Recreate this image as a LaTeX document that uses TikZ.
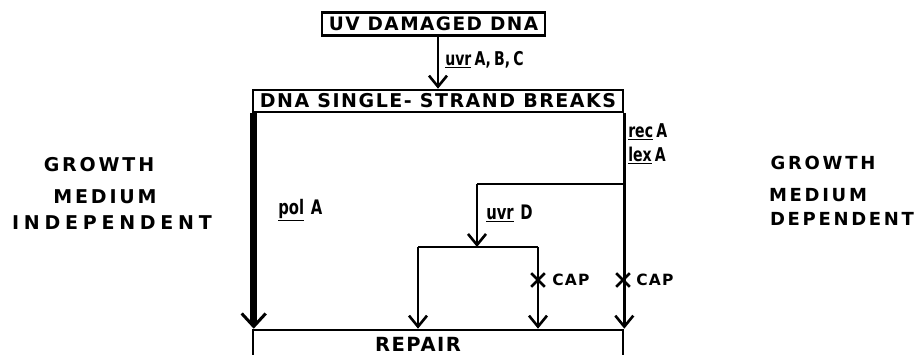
\documentclass[tikz,border=0pt]{standalone}
\usepackage{fontspec}
\setmainfont{DejaVu Sans}[LetterSpace=8]
\newfontfamily\widehand{DejaVu Sans}[LetterSpace=15]
\newfontfamily\widerhand{DejaVu Sans}[LetterSpace=25]
\newfontfamily\narrowhand{DejaVu Sans}[FakeStretch=0.74]
\usetikzlibrary{arrows.meta,shapes.misc}
\begin{document}
\begin{tikzpicture}[x=1pt,y=-1pt,line width=2.6pt,
  hand/.style={font=\bfseries\fontsize{#1}{#1}\selectfont,inner sep=0pt},
  hand/.default=17,
  lbl/.style={font=\narrowhand\bfseries\fontsize{#1}{#1}\selectfont,inner sep=0pt,anchor=west},
  lbl/.default=19,
  boxed/.style={draw,line width=2.6pt,inner sep=0pt,font=\bfseries\fontsize{18.5}{18.5}\selectfont},
  arr/.style={-{Straight Barb[length=11pt,width=18pt,line width=2.6pt]}},
  thickarr/.style={line width=6.5pt,-{Straight Barb[length=13pt,width=24pt,line width=3pt]}},
  xmark/.style={draw,cross out,line width=2.6pt,minimum size=11pt,inner sep=0pt},
  side/.style={font=\widehand\bfseries\fontsize{#1}{#1}\selectfont,inner sep=0pt},
  side/.default=19,
  sidew/.style={font=\widerhand\bfseries\fontsize{#1}{#1}\selectfont,inner sep=0pt},
  sidew/.default=19]
\useasboundingbox (0,0) rectangle (916,355);
\clip (0,0) rectangle (916,355);
% boxes
\node[boxed,minimum width=223pt,minimum height=23pt] (uv) at (433.5,24) {UV DAMAGED DNA};
\node[boxed,minimum width=370pt,minimum height=22pt,font=\bfseries\fontsize{19}{19}\selectfont] (ssb) at (438,101) {DNA SINGLE- STRAND BREAKS};
\node[boxed,minimum width=370pt,minimum height=40pt] (rep) at (438,350) {};
\node[hand=19.5] (reptext) at (418,344) {REPAIR};
% connectors
\draw[arr] (ssb.north |- uv.south) -- (ssb.north);
\draw[thickarr] (ssb.south west) ++(2,0) coordinate (pl) -- (pl |- rep.north);
\draw[arr] (ssb.south east) -- (rep.north east);
\coordinate (j1) at (623,184);
\coordinate (j2) at (477,184);
\coordinate (j3) at (477,247);
\coordinate (j4) at (418,247);
\coordinate (j5) at (538,247);
\draw (j1) -- (j2);
\draw[arr] (j2) -- (j3);
\draw (j4) -- (j5);
\draw[arr] (j4) -- (j4 |- rep.north);
\draw[arr] (j5) -- (j5 |- rep.north);
\node[xmark] (x1) at (538,280) {};
\node[xmark] (x2) at (623,280) {};
% labels
\node[lbl] (l1) at (444,60) {\underline{uvr}\,A,\,B,\,C};
\node[lbl] (l2) at (627,132) {\underline{rec}\,A};
\node[lbl] (l3) at (627,155) {\underline{lex}\,A};
\node[lbl=20] (l4) at (277,210) {\underline{pol}\,\,A};
\node[lbl=20] (l5) at (485,213) {\underline{uvr}\,\,D};
\node[hand=15.5,anchor=west] (l6) at (551,280) {CAP};
\node[hand=15.5,anchor=west] (l7) at (635,280) {CAP};
% side texts
\node[side] (lt1) at (99,165) {GROWTH};
\node[side] (lt2) at (105,197) {MEDIUM};
\node[sidew] (lt3) at (112,223) {INDEPENDENT};
\node[side=18] (rt1) at (823,163) {GROWTH};
\node[side=18] (rt2) at (818,195) {MEDIUM};
\node[side=18] (rt3) at (842,219) {DEPENDENT};
\end{tikzpicture}
\end{document}
